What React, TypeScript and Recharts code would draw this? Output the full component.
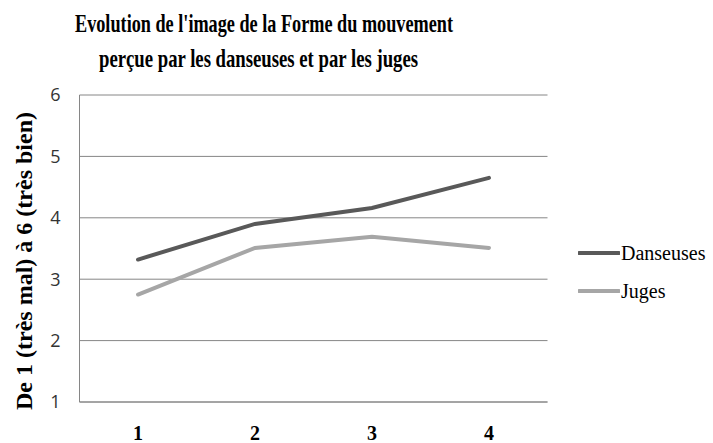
import { LineChart, Line, XAxis, YAxis, CartesianGrid, Legend } from "recharts";

const categories = ["1", "2", "3", "4"];
const danseuses = [3.32, 3.9, 4.16, 4.65];
const juges = [2.75, 3.51, 3.69, 3.51];
const yTicks = [1, 2, 3, 4, 5, 6];

const titleLines = [
  "Evolution de l'image de la Forme du mouvement",
  "perçue par les danseuses et par les juges",
];
const yLabel = "De 1 (très mal) à 6 (très bien)";

const serif = "'Liberation Serif', 'Times New Roman', serif";
const sans = "'Open Sans', 'Liberation Sans', sans-serif";

const data = categories.map((c, i) => ({
  name: c,
  Danseuses: danseuses[i],
  Juges: juges[i],
}));

function LegendContent(props: any) {
  const items = props.payload || [];
  return (
    <div>
      {items.map((it: any) => (
        <div key={it.value} style={{ display: "flex", alignItems: "center", height: 38 }}>
          <svg width={42} height={6}>
            <line x1={1} y1={3} x2={41} y2={3} stroke={it.color} strokeWidth={4} strokeLinecap="round" />
          </svg>
          <span style={{ fontFamily: serif, fontSize: 20, color: "#000", marginLeft: 1 }}>{it.value}</span>
        </div>
      ))}
    </div>
  );
}

export default function App() {
  return (
    <div style={{ position: "absolute", left: 0, top: 0, width: 713, height: 443, background: "#fff" }}>
      <LineChart
        width={713}
        height={443}
        data={data}
        margin={{ top: 95, right: 30.5, bottom: 0, left: 0 }}
      >
        <CartesianGrid vertical={false} stroke="#868686" strokeWidth={1} />
        <XAxis
          dataKey="name"
          height={41}
          padding={{ left: 58.5, right: 58.5 }}
          tickLine={false}
          tickSize={0}
          tickMargin={24}
          axisLine={{ stroke: "#868686" }}
          tick={{ fontFamily: serif, fontWeight: "bold", fontSize: 20, fill: "#000" }}
        />
        <YAxis
          width={79.5}
          domain={[1, 6]}
          ticks={yTicks}
          interval={0}
          tickLine={false}
          tickSize={0}
          tickMargin={19}
          axisLine={{ stroke: "#868686" }}
          tick={{ fontFamily: sans, fontSize: 18, fill: "#333" }}
        />
        <Legend
          layout="vertical"
          align="right"
          verticalAlign="top"
          content={<LegendContent />}
          wrapperStyle={{ left: 578, top: 234, width: 135 }}
        />
        <Line
          dataKey="Danseuses"
          stroke="#595959"
          strokeWidth={4}
          strokeLinecap="round"
          dot={false}
          isAnimationActive={false}
        />
        <Line
          dataKey="Juges"
          stroke="#a6a6a6"
          strokeWidth={4}
          strokeLinecap="round"
          dot={false}
          isAnimationActive={false}
        />
      </LineChart>
      <svg width={713} height={443} style={{ position: "absolute", left: 0, top: 0, pointerEvents: "none" }}>
        <text x={264} y={31.5} textAnchor="middle" fontFamily={serif} fontWeight="bold" fontSize={25}
          textLength={378} lengthAdjust="spacingAndGlyphs">
          {titleLines[0]}
        </text>
        <text x={258.5} y={66.5} textAnchor="middle" fontFamily={serif} fontWeight="bold" fontSize={25}
          textLength={319} lengthAdjust="spacingAndGlyphs">
          {titleLines[1]}
        </text>
        <text
          x={24}
          y={261}
          transform="rotate(-90 24 261)"
          textAnchor="middle"
          dominantBaseline="central"
          fontFamily={serif}
          fontWeight="bold"
          fontSize={24}
          textLength={298}
          lengthAdjust="spacingAndGlyphs"
        >
          {yLabel}
        </text>
      </svg>
    </div>
  );
}
